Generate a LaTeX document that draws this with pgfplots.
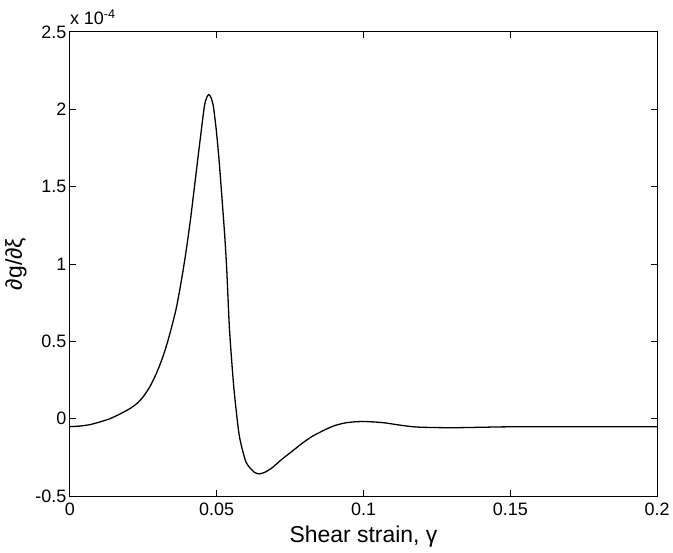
\documentclass[border=0pt]{standalone}
\usepackage{pgfplots}
\pgfplotsset{compat=1.18}
\usepackage{fontspec}
\setmainfont{Liberation Sans}
\begin{document}
\begin{tikzpicture}
\begin{axis}[
  scale only axis,
  width=589pt, height=465.5pt,
  xmin=0, xmax=0.2, ymin=-0.5, ymax=2.5,
  xtick={0,0.05,0.1,0.15,0.2},
  xticklabels={0,0.05,0.1,0.15,0.2},
  ytick={-0.5,0,0.5,1,1.5,2,2.5},
  yticklabels={-0.5,0,0.5,1,1.5,2,2.5},
  tick align=inside,
  major tick length=6.5pt,
  axis line style={line width=1pt},
  every tick/.style={black, line width=1pt},
  tick label style={font=\fontsize{18}{20}\selectfont},
  xticklabel style={yshift=-3pt},
  /pgf/number format/assume math mode=true,
  xlabel={Shear strain, γ},
  ylabel={∂g/∂ξ},
  label style={font=\fontsize{23}{26}\selectfont},
  xlabel style={at={(axis description cs:0.5,-0.086)}, anchor=center},
  ylabel style={at={(axis description cs:-0.0917,0.5)}, anchor=center},
  clip=false,
]
\addplot[black, line width=1.3pt, smooth, tension=0.4] coordinates {
(0,-0.051) (0.0035,-0.047) (0.0068,-0.038) (0.010,-0.022) (0.0136,0.0)
(0.017,0.030) (0.0204,0.065) (0.0228,0.098) (0.0249,0.140) (0.0272,0.205)
(0.0294,0.290) (0.0312,0.375) (0.0328,0.465) (0.0345,0.580) (0.0362,0.710)
(0.0376,0.850) (0.0390,1.010) (0.0401,1.150) (0.0413,1.32) (0.0441,1.76) (0.0458,2.017)
(0.0466,2.075) (0.0473,2.095) (0.0481,2.075) (0.0489,2.017) (0.0499,1.86)
(0.0509,1.653) (0.0526,1.223) (0.0534,0.976) (0.0543,0.60) (0.0551,0.38)
(0.0560,0.171) (0.0577,-0.109) (0.0600,-0.28) (0.0628,-0.345) (0.0645,-0.356)
(0.0665,-0.345) (0.0690,-0.315) (0.0720,-0.265) (0.0755,-0.213) (0.0790,-0.160)
(0.0826,-0.113) (0.0872,-0.068) (0.0905,-0.042) (0.094,-0.026) (0.0975,-0.019)
(0.1007,-0.018) (0.1040,-0.021) (0.1075,-0.027) (0.112,-0.040) (0.116,-0.050)
(0.12,-0.055) (0.13,-0.058) (0.14,-0.055) (0.15,-0.052) (0.175,-0.052) (0.2,-0.052)
};
\node[anchor=base west, font=\fontsize{18}{20}\selectfont, inner sep=0pt] at (rel axis cs:0,1) [yshift=7pt] {x 10\textsuperscript{-4}};
\end{axis}
\path (-70pt,-56.5pt) rectangle (603pt,497.5pt);
\end{tikzpicture}
\end{document}
